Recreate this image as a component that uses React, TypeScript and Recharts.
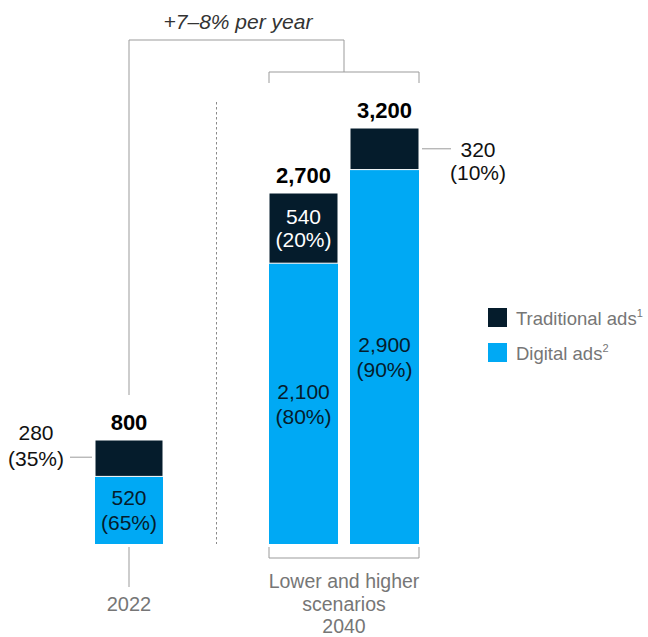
import { BarChart, Bar, XAxis, YAxis, LabelList } from "recharts";

// bar values as drawn (bar labels in the source are rounded)
const CATEGORIES = ["2022", "Lower", "Higher"];
const DIGITAL = [520, 2160, 2880];
const TRADITIONAL = [280, 540, 320];
const DIGITAL_LABELS = ["520", "2,100", "2,900"];
const TRADITIONAL_LABELS = ["280", "540", "320"];
const DIGITAL_SHARE = ["65%", "80%", "90%"];
const TRADITIONAL_SHARE = ["35%", "20%", "10%"];
const TRAD_LABEL_SIDE = ["left", "inside", "right"];
const YEAR_LABEL = "2022";
const SCENARIO_LABEL = ["Lower and higher", "scenarios", "2040"];
const GROWTH_LABEL = "+7–8% per year";
const LEGEND_ITEMS = ["Traditional ads", "Digital ads"];
const LEGEND_NOTES = ["1", "2"];

const NAVY = "#051C2C";
const BLUE = "#00A9F4";
const GRAY_LINE = "#9b9b9b";
const GRAY_TEXT = "#767676";
const FONT = "'Liberation Sans', Arial, sans-serif";

const W = 648;
const H = 637;
const TOP = 128;
const BOTTOM = 93;
const MAX = 3200;

const rows = CATEGORIES.map((name, idx) => ({
  name,
  idx,
  digital: DIGITAL[idx],
  traditional: TRADITIONAL[idx],
}));

const base = (v: number, size: number) => v + size * 0.36;

function DigitalLabel(p: any) {
  const i = p.value as number;
  const cx = p.x + p.width / 2;
  const cy = p.y + p.height / 2;
  return (
    <text textAnchor="middle" fill={NAVY} fontSize={21} fontFamily={FONT}>
      <tspan x={cx} y={base(cy - 12.5, 21)}>{DIGITAL_LABELS[i]}</tspan>
      <tspan x={cx} y={base(cy + 12.5, 21)}>({DIGITAL_SHARE[i]})</tspan>
    </text>
  );
}

function TraditionalLabel(p: any) {
  const i = p.value as number;
  const side = TRAD_LABEL_SIDE[i];
  const cy = p.y + p.height / 2;
  const total = (DIGITAL[i] + TRADITIONAL[i]).toLocaleString("en-US");
  const cx = p.x + p.width / 2;
  let body;
  if (side === "inside") {
    body = (
      <text textAnchor="middle" fill="#fff" fontSize={21} fontFamily={FONT}>
        <tspan x={cx} y={base(cy - 12, 21)}>{TRADITIONAL_LABELS[i]}</tspan>
        <tspan x={cx} y={base(cy + 11, 21)}>({TRADITIONAL_SHARE[i]})</tspan>
      </text>
    );
  } else if (side === "left") {
    const tx = p.x - 59;
    body = (
      <g>
        <line x1={p.x - 25} x2={p.x - 3} y1={cy - 1} y2={cy - 1} stroke={GRAY_LINE} />
        <text textAnchor="middle" fill="#111" fontSize={21} fontFamily={FONT}>
          <tspan x={tx} y={base(cy - 26, 21)}>{TRADITIONAL_LABELS[i]}</tspan>
          <tspan x={tx} y={base(cy, 21)}>({TRADITIONAL_SHARE[i]})</tspan>
        </text>
      </g>
    );
  } else {
    const r = p.x + p.width;
    const tx = r + 59;
    body = (
      <g>
        <line x1={r + 3} x2={r + 32} y1={cy} y2={cy} stroke={GRAY_LINE} />
        <text textAnchor="middle" fill="#111" fontSize={21} fontFamily={FONT}>
          <tspan x={tx} y={base(cy + 1, 21)}>{TRADITIONAL_LABELS[i]}</tspan>
          <tspan x={tx} y={base(cy + 24, 21)}>({TRADITIONAL_SHARE[i]})</tspan>
        </text>
      </g>
    );
  }
  return (
    <g>
      {body}
      <text
        x={cx}
        y={base(p.y - 18, 22)}
        textAnchor="middle"
        fill="#000"
        fontSize={22}
        fontWeight="bold"
        fontFamily={FONT}
      >
        {total}
      </text>
    </g>
  );
}

function Stack({ data, left, right, size }: { data: any[]; left: number; right: number; size: number }) {
  return (
    <div style={{ position: "absolute", left: 0, top: 0 }}>
      <BarChart
        width={W}
        height={H}
        data={data}
        margin={{ top: TOP, bottom: BOTTOM, left, right }}
        barCategoryGap={0}
      >
        <XAxis dataKey="name" hide />
        <YAxis hide domain={[0, MAX]} />
        <Bar dataKey="digital" stackId="s" fill={BLUE} barSize={size} isAnimationActive={false}>
          <LabelList dataKey="idx" content={DigitalLabel} />
        </Bar>
        <Bar
          dataKey="traditional"
          stackId="s"
          fill={NAVY}
          stroke="#fff"
          strokeWidth={1}
          barSize={size}
          isAnimationActive={false}
        >
          <LabelList dataKey="idx" content={TraditionalLabel} />
        </Bar>
      </BarChart>
    </div>
  );
}

function Annotations() {
  return (
    <svg width={W} height={H} style={{ position: "absolute", left: 0, top: 0, pointerEvents: "none" }}>
      {/* growth bracket */}
      <polyline points="129,395 129,40 344,40 344,72" fill="none" stroke={GRAY_LINE} />
      <polyline points="269,83 269,72 419,72 419,83" fill="none" stroke={GRAY_LINE} />
      <text x={238} y={29} textAnchor="middle" fontSize={21} fontStyle="italic" fill="#333" fontFamily={FONT}>
        {GROWTH_LABEL}
      </text>
      {/* divider */}
      <line x1={216.5} x2={216.5} y1={102} y2={544} stroke="#8a8a8a" strokeDasharray="2.5 2.5" />
      {/* x labels */}
      <line x1={129} x2={129} y1={547} y2={587} stroke={GRAY_LINE} />
      <text x={129} y={base(604, 20)} textAnchor="middle" fontSize={20} fill={GRAY_TEXT} fontFamily={FONT}>
        {YEAR_LABEL}
      </text>
      <polyline points="269,547 269,558 419,558 419,547" fill="none" stroke={GRAY_LINE} />
      <text textAnchor="middle" fontSize={19.5} fill={GRAY_TEXT} fontFamily={FONT}>
        {SCENARIO_LABEL.map((t, k) => (
          <tspan key={t} x={344} y={base(581 + k * 22.5, 19.5)}>
            {t}
          </tspan>
        ))}
      </text>
      {/* legend */}
      {LEGEND_ITEMS.map((t, k) => (
        <g key={t}>
          <rect x={488} y={308 + k * 35} width={19} height={19} fill={k === 0 ? NAVY : BLUE} />
          <text x={516} y={base(318 + k * 35, 18.5)} fontSize={18.5} fill={GRAY_TEXT} fontFamily={FONT}>
            {t}
            <tspan fontSize={11} dy={-8}>
              {LEGEND_NOTES[k]}
            </tspan>
          </text>
        </g>
      ))}
    </svg>
  );
}

export default function App() {
  return (
    <div style={{ position: "absolute", left: 0, top: 0, width: W, height: H, background: "#fff" }}>
      <Stack data={rows.slice(0, 1)} left={60} right={W - 198} size={68} />
      <Stack data={rows.slice(1)} left={263} right={W - 425} size={69} />
      <Annotations />
    </div>
  );
}
